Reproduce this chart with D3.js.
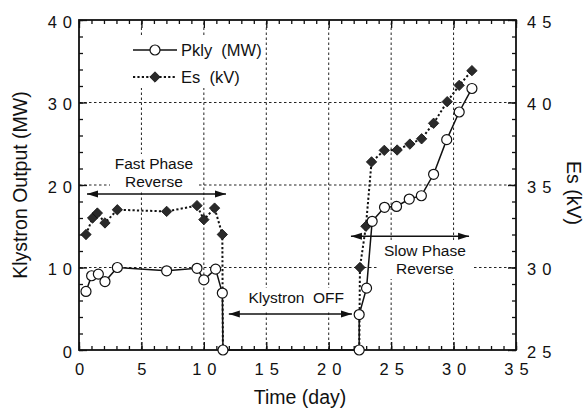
<!DOCTYPE html>
<html><head><meta charset="utf-8">
<script src="https://cdn.jsdelivr.net/npm/d3@7"></script>
<style>
html,body{margin:0;padding:0;background:#fff;}
text{font-family:"Liberation Sans",Arial,Helvetica,sans-serif;fill:#111;}
</style></head>
<body>
<svg id="c" width="585" height="412"></svg>
<script>
// ---- data ----
const pklyDays = [0.56, 1.01, 1.55, 2.08, 3.07, 7.02, 9.45, 10.0, 10.94, 11.48, 11.53,
                  22.44, 22.44, 23.03, 23.48, 24.47, 25.43, 26.45, 27.42, 28.4, 29.45, 30.45, 31.47];
const pklyMW   = [7.1, 9.0, 9.2, 8.3, 10.0, 9.6, 9.9, 8.5, 9.8, 6.9, 0,
                  0, 4.3, 7.5, 15.6, 17.3, 17.4, 18.3, 18.7, 21.3, 25.5, 28.85, 31.7];
const esDays   = [0.56, 1.09, 1.47, 2.08, 3.07, 7.02, 9.45, 10.0, 10.86, 11.48,
                  22.5, 22.98, 23.43, 24.45, 25.48, 26.5, 27.44, 28.4, 29.49, 30.45, 31.47];
const esKV     = [32.0, 33.0, 33.3, 32.7, 33.5, 33.4, 33.75, 32.9, 33.6, 32.0,
                  30.0, 32.5, 36.4, 37.1, 37.12, 37.48, 37.8, 38.74, 40.05, 41.04, 41.93];
// days where the Es trace drops off the bottom of the axis (klystron off)
const esOffDays = [11.53, 22.44];
const xTicks  = [0, 5, 10, 15, 20, 25, 30, 35];
const yLTicks = [0, 10, 20, 30, 40];
const yRTicks = [25, 30, 35, 40, 45];

const svg = d3.select("#c");
const x  = d3.scaleLinear([0, 35], [79, 516]);
const yL = d3.scaleLinear([0, 40], [350, 20]);
const yR = d3.scaleLinear([25, 45], [350, 20]);
const X0 = x.range()[0], X1 = x.range()[1], Y0 = yL.range()[0], Y1 = yL.range()[1];

// ---- grid ----
const grid = svg.append("g").attr("stroke", "#222").attr("stroke-width", 1).attr("stroke-dasharray", "2.5,2.5");
[5,10,15,20,25,30].forEach(d => grid.append("line").attr("x1", x(d)).attr("x2", x(d)).attr("y1", Y0).attr("y2", Y1));
[10,20,30].forEach(d => grid.append("line").attr("x1", X0).attr("x2", X1).attr("y1", yL(d)).attr("y2", yL(d)));

// ---- white boxes behind texts ----
const boxes = [[128, 35, 134, 53], [110, 154, 88, 37], [243, 288, 107, 23], [377, 240, 97, 39]];
boxes.forEach(b => svg.append("rect").attr("x", b[0]).attr("y", b[1]).attr("width", b[2]).attr("height", b[3]).attr("fill", "#fff"));

// ---- axes ----
function styleAxis(g){ g.select(".domain").remove(); g.selectAll("line").attr("stroke", "#111").attr("stroke-width", 1.3); }
const LS = 6; // letter spacing of tick labels
function styleLabels(g){ g.selectAll("text").attr("font-size", 16.5).attr("letter-spacing", LS + "px").attr("fill", "#111"); }

// bottom
svg.append("g").attr("transform", `translate(0,${Y0})`)
  .call(d3.axisBottom(x).tickValues(d3.range(0, 36, 1)).tickSize(-4).tickFormat(""))
  .call(styleAxis);
svg.append("g").attr("transform", `translate(0,${Y0})`)
  .call(d3.axisBottom(x).tickValues(xTicks).tickSize(-8).tickPadding(13).tickFormat(d3.format("d")))
  .call(styleAxis).call(styleLabels)
  .selectAll("text").attr("dx", LS / 2);
// top
svg.append("g").attr("transform", `translate(0,${Y1})`)
  .call(d3.axisTop(x).tickValues(d3.range(0, 36, 1)).tickSize(-4).tickFormat("")).call(styleAxis);
svg.append("g").attr("transform", `translate(0,${Y1})`)
  .call(d3.axisTop(x).tickValues(xTicks).tickSize(-8).tickFormat("")).call(styleAxis);
// left
svg.append("g").attr("transform", `translate(${X0},0)`)
  .call(d3.axisLeft(yL).tickValues(d3.range(0, 41, 2)).tickSize(-4).tickFormat("")).call(styleAxis);
svg.append("g").attr("transform", `translate(${X0},0)`)
  .call(d3.axisLeft(yL).tickValues(yLTicks).tickSize(-8).tickPadding(1).tickFormat(d3.format("d")))
  .call(styleAxis).call(styleLabels)
  .selectAll("text").attr("dy", "0.45em");
// right
svg.append("g").attr("transform", `translate(${X1},0)`)
  .call(d3.axisRight(yR).tickValues(d3.range(25, 46, 1)).tickSize(-4).tickFormat("")).call(styleAxis);
svg.append("g").attr("transform", `translate(${X1},0)`)
  .call(d3.axisRight(yR).tickValues(yRTicks).tickSize(-8).tickPadding(11).tickFormat(d3.format("d")))
  .call(styleAxis).call(styleLabels)
  .selectAll("text").attr("dy", "0.45em");

// frame
svg.append("rect").attr("x", X0).attr("y", Y1).attr("width", X1 - X0).attr("height", Y0 - Y1)
  .attr("fill", "none").attr("stroke", "#111").attr("stroke-width", 1.8);

// ---- clip ----
svg.append("clipPath").attr("id", "plot").append("rect")
  .attr("x", X0).attr("y", Y1).attr("width", X1 - X0).attr("height", Y0 - Y1);

// ---- Es series (dotted) ----
const es = esDays.map((d, i) => ({d, v: esKV[i]}));
const esPath = [...es.slice(0, 10), {d: esOffDays[0], v: 24}, null, {d: esOffDays[1], v: 24}, ...es.slice(10)];
const lineR = d3.line().defined(p => p !== null).x(p => x(p.d)).y(p => yR(p.v));
svg.append("path").attr("clip-path", "url(#plot)").attr("d", lineR(esPath))
  .attr("fill", "none").attr("stroke", "#111").attr("stroke-width", 2).attr("stroke-dasharray", "2.2,2.2");

// ---- Pkly series (solid) ----
const pk = pklyDays.map((d, i) => ({d, v: pklyMW[i]}));
const lineL = d3.line().x(p => x(p.d)).y(p => yL(p.v));
svg.append("path").attr("d", lineL(pk)).attr("fill", "none").attr("stroke", "#111").attr("stroke-width", 1.5);

// diamonds
const diamond = "M0,-5.2L5.2,0L0,5.2L-5.2,0Z";
svg.append("g").selectAll("path").data(es).join("path")
  .attr("transform", p => `translate(${x(p.d)},${yR(p.v)})`).attr("d", diamond)
  .attr("fill", "#2a2a2a").attr("stroke", "#111").attr("stroke-width", 0.8);
// circles
svg.append("g").selectAll("circle").data(pk).join("circle")
  .attr("cx", p => x(p.d)).attr("cy", p => yL(p.v)).attr("r", 5)
  .attr("fill", "#fff").attr("stroke", "#111").attr("stroke-width", 1.2);

// ---- legend ----
const lg = svg.append("g");
lg.append("line").attr("x1", 133).attr("x2", 177).attr("y1", 50).attr("y2", 50).attr("stroke", "#111").attr("stroke-width", 1.5);
lg.append("circle").attr("cx", 155).attr("cy", 50).attr("r", 5).attr("fill", "#fff").attr("stroke", "#111").attr("stroke-width", 1.2);
lg.append("text").attr("x", 181).attr("y", 56).attr("font-size", 16.5).attr("xml:space", "preserve").text("Pkly  (MW)");
lg.append("line").attr("x1", 133).attr("x2", 177).attr("y1", 77).attr("y2", 77).attr("stroke", "#111").attr("stroke-width", 2).attr("stroke-dasharray", "2.2,2.2");
lg.append("path").attr("transform", "translate(155,77)").attr("d", diamond).attr("fill", "#2a2a2a").attr("stroke", "#111").attr("stroke-width", 0.8);
lg.append("text").attr("x", 181).attr("y", 83).attr("font-size", 16.5).attr("xml:space", "preserve").text("Es  (kV)");

// ---- annotations ----
const defs = svg.append("defs");
defs.append("marker").attr("id", "are").attr("viewBox", "0 -4 11 8").attr("refX", 11).attr("refY", 0)
  .attr("markerWidth", 11).attr("markerHeight", 8).attr("markerUnits", "userSpaceOnUse").attr("orient", "auto-start-reverse")
  .append("path").attr("d", "M0,-3.5L11,0L0,3.5Z").attr("fill", "#111");
function arrow(d1, d2, mw){
  svg.append("line").attr("x1", x(d1)).attr("x2", x(d2)).attr("y1", yL(mw)).attr("y2", yL(mw))
    .attr("stroke", "#111").attr("stroke-width", 1.5)
    .attr("marker-start", "url(#are)").attr("marker-end", "url(#are)");
}
arrow(0.64, 11.77, 18.9);
arrow(12.0, 21.86, 4.36);
arrow(21.78, 31.24, 13.8);
function label(d, mw, t){
  svg.append("text").attr("x", x(d)).attr("y", yL(mw)).attr("text-anchor", "middle").attr("font-size", 15.5).attr("xml:space", "preserve").text(t);
}
label(6.0, 21.94, "Fast Phase");
label(6.0, 19.76, "Reverse");
label(17.4, 5.65, "Klystron  OFF");
label(27.7, 11.39, "Slow Phase");
label(27.7, 9.21, "Reverse");

// ---- axis titles ----
svg.append("text").attr("x", 300).attr("y", 404).attr("text-anchor", "middle").attr("font-size", 19.5).text("Time (day)");
svg.append("text").attr("transform", `translate(27,${(Y0 + Y1) / 2}) rotate(-90)`).attr("text-anchor", "middle").attr("font-size", 19.5).text("Klystron Output (MW)");
svg.append("text").attr("transform", `translate(567,193) rotate(90)`).attr("text-anchor", "middle").attr("font-size", 19.5).text("Es (kV)");
</script>
</body></html>
